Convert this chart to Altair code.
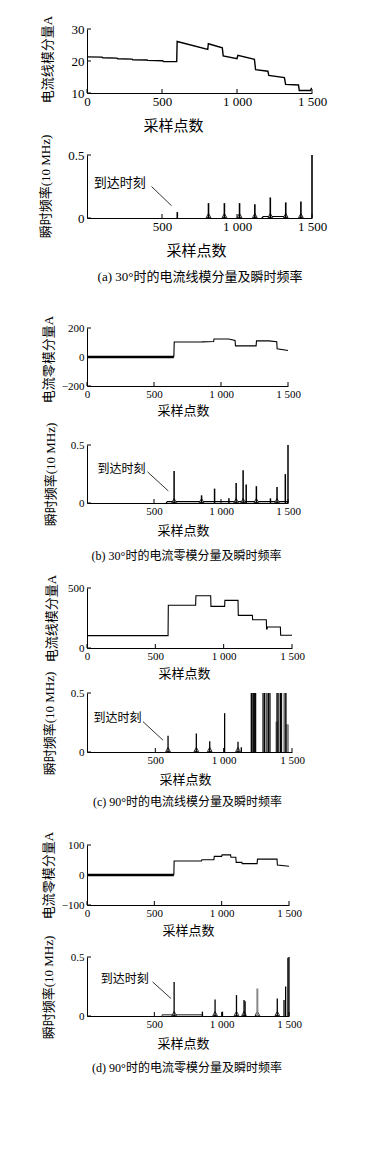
import altair as alt
import pandas as pd

FONT = "Liberation Serif, Noto Sans CJK SC"
X_TITLE = "采样点数"
ANNOT = "到达时刻"
YT_LINE = "电流线模分量A"
YT_ZERO = "电流零模分量A"
YT_FREQ = "瞬时频率(10 MHz)"
CAPTIONS = ["(a) 30°时的电流线模分量及瞬时频率", "(b) 30°时的电流零模分量及瞬时频率",
            "(c) 90°时的电流线模分量及瞬时频率", "(d) 90°时的电流零模分量及瞬时频率"]

# ---------- (a) top: line-mode current, 30 deg ----------
A1_X = [0, 100, 105, 200, 205, 300, 305, 400, 405, 505, 510, 598, 601, 805, 809, 902, 908,
        1000, 1006, 1116, 1124, 1206, 1212, 1316, 1324, 1410, 1415, 1490, 1496, 1500]
A1_Y = [21.3, 21.2, 21.0, 20.9, 20.7, 20.6, 20.4, 20.3, 20.2, 20.1, 19.8, 19.8, 26.1, 23.6, 25.4, 24.1, 21.6,
        20.7, 21.8, 20.5, 17.3, 16.8, 15.5, 14.8, 12.7, 12.5, 10.8, 10.8, 11.4, 11.4]
# ---------- (a) bottom: instantaneous frequency ----------
A2_SPIKE_X = [602, 810, 916, 1017, 1119, 1222, 1325, 1426, 1500]
A2_SPIKE_Y = [0.047, 0.118, 0.118, 0.118, 0.110, 0.163, 0.124, 0.130, 0.5]
A2_TRI_X = [810, 916, 1017, 1119, 1222, 1325, 1426]
A2_BASE_X = [1165, 1175, 1315, 1325]
A2_BASE_Y = [0, 0.012, 0.012, 0]
A2_ANN = [219, 0.278, 430, 0.25, 564, 0.097]

# ---------- (b) top: zero-mode current, 30 deg ----------
B1_NOISE_X = [0, 648]
B1_NOISE_Y = [0, 0]
B1_X = [648, 651, 858, 945, 948, 1057, 1105, 1108, 1262, 1265, 1356, 1416, 1419, 1500]
B1_Y = [0, 103, 104, 107, 124, 124, 114, 77, 77, 112, 111, 105, 56, 45]
B2_SPIKE_X = [650, 855, 952, 1059, 1113, 1165, 1188, 1264, 1369, 1418, 1480, 1500]
B2_SPIKE_Y = [0.275, 0.066, 0.124, 0.04, 0.173, 0.283, 0.159, 0.145, 0.04, 0.139, 0.249, 0.5]
B2_TRI_X = [650, 855, 1113, 1165, 1264, 1418]
B2_BASE_X = [590, 600, 1490, 1500]
B2_BASE_Y = [0, 0.012, 0.012, 0]
B2_ANN = [257, 0.293, 451, 0.269, 607, 0.104]

# ---------- (c) top: line-mode current, 90 deg ----------
C1_X = [0, 593, 595, 795, 797, 905, 907, 1007, 1009, 1105, 1107, 1210, 1212, 1312, 1314, 1318, 1320, 1415, 1417, 1500]
C1_Y = [103, 103, 356, 356, 436, 436, 347, 347, 397, 397, 272, 272, 236, 236, 158, 158, 175, 175, 106, 106]
C2_SPIKE_X = [593, 800, 898, 1007, 1105, 1129]
C2_SPIKE_Y = [0.137, 0.157, 0.091, 0.329, 0.086, 0.04]
C2_BURST_X = [1202, 1206, 1217, 1227, 1234, 1288, 1298, 1317, 1329, 1339,
              1390, 1398, 1415, 1422, 1449, 1456]
C2_BURST_Y = [0.5, 0.5, 0.5, 0.5, 0.5, 0.5, 0.5, 0.5, 0.5, 0.5,
              0.5, 0.5, 0.5, 0.5, 0.5, 0.5]
C2_GRAYB_X = [1210, 1222, 1307, 1405, 1436]
C2_GRAYB_Y = [0.5, 0.5, 0.5, 0.5, 0.5]
C2_GRAY_X = [1386, 1394, 1462, 1470]
C2_GRAY_Y = [0.257, 0.257, 0.234, 0.234]
C2_TRI_X = [593, 800, 898, 1105]
C2_ANN = [223, 0.288, 410, 0.257, 556, 0.1]

# ---------- (d) top: zero-mode current, 90 deg ----------
D1_NOISE_X = [0, 645]
D1_NOISE_Y = [0, 0]
D1_X = [645, 647, 850, 853, 942, 945, 1000, 1003, 1066, 1069, 1105, 1108, 1150, 1153, 1263, 1266, 1411, 1414, 1500]
D1_Y = [0, 46.7, 46.7, 51, 51, 62, 62, 67, 67, 59, 59, 42, 42, 38, 38, 53, 53, 33, 29]
D2_SPIKE_X = [647, 857, 951, 1006, 1110, 1166, 1174, 1413, 1463, 1475, 1492, 1500]
D2_SPIKE_Y = [0.289, 0.037, 0.14, 0.037, 0.177, 0.135, 0.126, 0.149, 0.135, 0.25, 0.494, 0.5]
D2_GRAY_X = [1265]
D2_GRAY_Y = [0.233]
D2_TRI_X = [647, 951, 1110, 1166, 1265, 1413]
D2_BASE_X = [555, 562, 852, 860]
D2_BASE_Y = [0, 0.01, 0.01, 0]
D2_ANN = [281, 0.314, 487, 0.289, 623, 0.149]

LABEL_EXPR = "replace(format(datum.value, ','), ',', ' ')"
YLABEL_EXPR = "datum.value < 0 ? '\u2212' + abs(datum.value) : '' + datum.value"


def panel(w, h, xdom, ydom, xticks, yticks, ytitle, ytx, yty, xtx, xty,
          lab_fs, xt_fs, yt_fs, lines=(), spikes=(), tris=None, annot=None,
          ann_fs=12, caption=None):
    xs = alt.Scale(domain=xdom, nice=False, zero=False)
    ys = alt.Scale(domain=ydom, nice=False, zero=False)
    xaxis = alt.Axis(values=xticks, labelExpr=LABEL_EXPR, title=X_TITLE, titleX=xtx, titleY=xty,
                     titleBaseline="middle", titleAlign="center", titleFontSize=xt_fs,
                     labelFontSize=lab_fs, labelPadding=2, labelFlush=False, labelOverlap=False,
                     ticks=False, grid=False, labelFont=FONT, titleFont=FONT,
                     labelColor="black", titleColor="black", domainColor="black",
                     titleFontWeight="normal")
    yaxis = alt.Axis(values=yticks, labelExpr=YLABEL_EXPR, title=ytitle, titleX=ytx, titleY=yty,
                     titleAngle=270, titleBaseline="middle", titleAlign="center", titleFontSize=yt_fs,
                     labelFontSize=lab_fs, labelPadding=3, labelOverlap=False, ticks=False, grid=False,
                     labelFont=FONT, titleFont=FONT, labelColor="black", titleColor="black",
                     domainColor="black", titleFontWeight="normal")
    X = lambda f="x": alt.X(f + ":Q", scale=xs, axis=xaxis)
    Y = lambda f="y": alt.Y(f + ":Q", scale=ys, axis=yaxis)
    layers = []
    # inward ticks
    layers.append(alt.Chart(pd.DataFrame({"x": xticks})).mark_rule(color="black", strokeWidth=1).encode(
        x=X(), y=alt.value(h), y2=alt.value(h - 4)))
    layers.append(alt.Chart(pd.DataFrame({"y": yticks})).mark_rule(color="black", strokeWidth=1).encode(
        y=Y(), x=alt.value(0), x2=alt.value(4)))
    for xv, yv, sw, col in lines:
        df = pd.DataFrame({"x": xv, "y": yv, "o": list(range(len(xv)))})
        layers.append(alt.Chart(df).mark_line(color=col, strokeWidth=sw, strokeJoin="miter").encode(
            x=X(), y=Y(), order="o:Q"))
    if tris is not None:
        layers.append(alt.Chart(pd.DataFrame({"x": tris})).mark_point(
            shape="triangle-up", filled=True, fill="white", stroke="black", strokeWidth=0.8,
            size=22, yOffset=-2.5, opacity=1).encode(x=X(), y=alt.value(h)))
    for xv, yv, sw, col in spikes:
        df = pd.DataFrame({"x": xv, "y": yv})
        layers.append(alt.Chart(df).mark_rule(color=col, strokeWidth=sw).encode(
            x=X(), y=Y(), y2=alt.value(h)))
    if annot is not None:
        tx, ty, x1, y1, x2, y2 = annot
        layers.append(alt.Chart(pd.DataFrame({"x": [tx], "y": [ty], "t": [ANNOT]})).mark_text(
            font=FONT, fontSize=ann_fs, align="center", baseline="middle", color="black").encode(
            x=X(), y=Y(), text="t:N"))
        layers.append(alt.Chart(pd.DataFrame({"x": [x1], "y": [y1], "x2": [x2], "y2": [y2]})).mark_rule(
            color="black", strokeWidth=0.8).encode(x=X(), y=Y(), x2="x2:Q", y2="y2:Q"))
    if caption is not None:
        text, cx, cy, cfs = caption
        layers.append(alt.Chart(pd.DataFrame({"t": [text]})).mark_text(
            font=FONT, fontSize=cfs, align="center", baseline="middle", color="black").encode(
            x=alt.value(cx), y=alt.value(cy), text="t:N"))
    return alt.layer(*layers).properties(width=w, height=h)


def spacer(h):
    return alt.Chart(pd.DataFrame({"a": [0]})).mark_point(opacity=0).encode(
        x=alt.value(0), y=alt.value(0)).properties(width=10, height=h)


XD = [0, 1500]
K = "black"

a1 = panel(225, 64, XD, [10, 30], [0, 500, 1000, 1500], [10, 20, 30], YT_LINE, -40, 30, 86, 32,
           13, 15, 13, lines=[(A1_X, A1_Y, 1.4, K)])
a2 = panel(225, 63, XD, [0, 0.5], [500, 1000, 1500], [0, 0.5], YT_FREQ, -42, 31, 109, 32,
           13, 15, 13, lines=[(A2_BASE_X, A2_BASE_Y, 1.2, K)],
           spikes=[(A2_SPIKE_X, A2_SPIKE_Y, 1.6, K)], tris=A2_TRI_X, annot=A2_ANN, ann_fs=13,
           caption=(CAPTIONS[0], 113, 122, 13))

b1 = panel(201, 58, XD, [-200, 200], [0, 500, 1000, 1500], [-200, 0, 200], YT_ZERO, -39, 31, 96, 24,
           11, 13, 13, lines=[(B1_NOISE_X, B1_NOISE_Y, 2.6, K), (B1_X, B1_Y, 1.1, K)])
b2 = panel(201, 58, XD, [0, 0.5], [500, 1000, 1500], [0, 0.5], YT_FREQ, -37, 29, 96, 27,
           11, 13, 13, lines=[(B2_BASE_X, B2_BASE_Y, 1.2, K)],
           spikes=[(B2_SPIKE_X, B2_SPIKE_Y, 1.5, K)], tris=B2_TRI_X, annot=B2_ANN,
           caption=(CAPTIONS[1], 99.5, 111, 12))

c1 = panel(205, 60, XD, [0, 500], [0, 500, 1000, 1500], [0, 500], YT_LINE, -36, 30, 97, 25,
           11, 13, 13, lines=[(C1_X, C1_Y, 1.1, K)])
c2 = panel(205, 59, XD, [0, 0.5], [500, 1000, 1500], [0, 0.5], YT_FREQ, -38, 30, 98, 27,
           11, 13, 13,
           spikes=[(C2_GRAY_X, C2_GRAY_Y, 2.0, "#888888"), (C2_GRAYB_X, C2_GRAYB_Y, 1.2, "#999999"),
                   (C2_SPIKE_X, C2_SPIKE_Y, 1.3, K), (C2_BURST_X, C2_BURST_Y, 1.2, K)],
           tris=C2_TRI_X, annot=C2_ANN, caption=(CAPTIONS[2], 100.5, 109, 12))

d1 = panel(202, 60, XD, [-100, 100], [0, 500, 1000, 1500], [-100, 0, 100], YT_ZERO, -39, 30, 101, 25,
           11, 13, 13, lines=[(D1_NOISE_X, D1_NOISE_Y, 2.6, K), (D1_X, D1_Y, 1.1, K)])
d2 = panel(202, 59, XD, [0, 0.5], [500, 1000, 1500], [0, 0.5], YT_FREQ, -39, 30, 96, 27,
           11, 13, 13, lines=[(D2_BASE_X, D2_BASE_Y, 1.5, "#666666")],
           spikes=[(D2_GRAY_X, D2_GRAY_Y, 2.0, "#888888"), (D2_SPIKE_X, D2_SPIKE_Y, 1.3, K)],
           tris=D2_TRI_X, annot=D2_ANN, caption=(CAPTIONS[3], 100, 111, 12))

chart = alt.vconcat(a1, spacer(62), a2, spacer(110), b1, spacer(59), b2, spacer(85),
                    c1, spacer(45), c2, spacer(93), d1, spacer(52), d2,
                    spacing=0, bounds="flush").properties(
    padding={"left": 31, "top": 7, "right": 5, "bottom": 5},
    background="white",
).configure_view(strokeWidth=0, stroke="transparent")

chart.save("out.html", embed_options={"renderer": "svg", "actions": False})
